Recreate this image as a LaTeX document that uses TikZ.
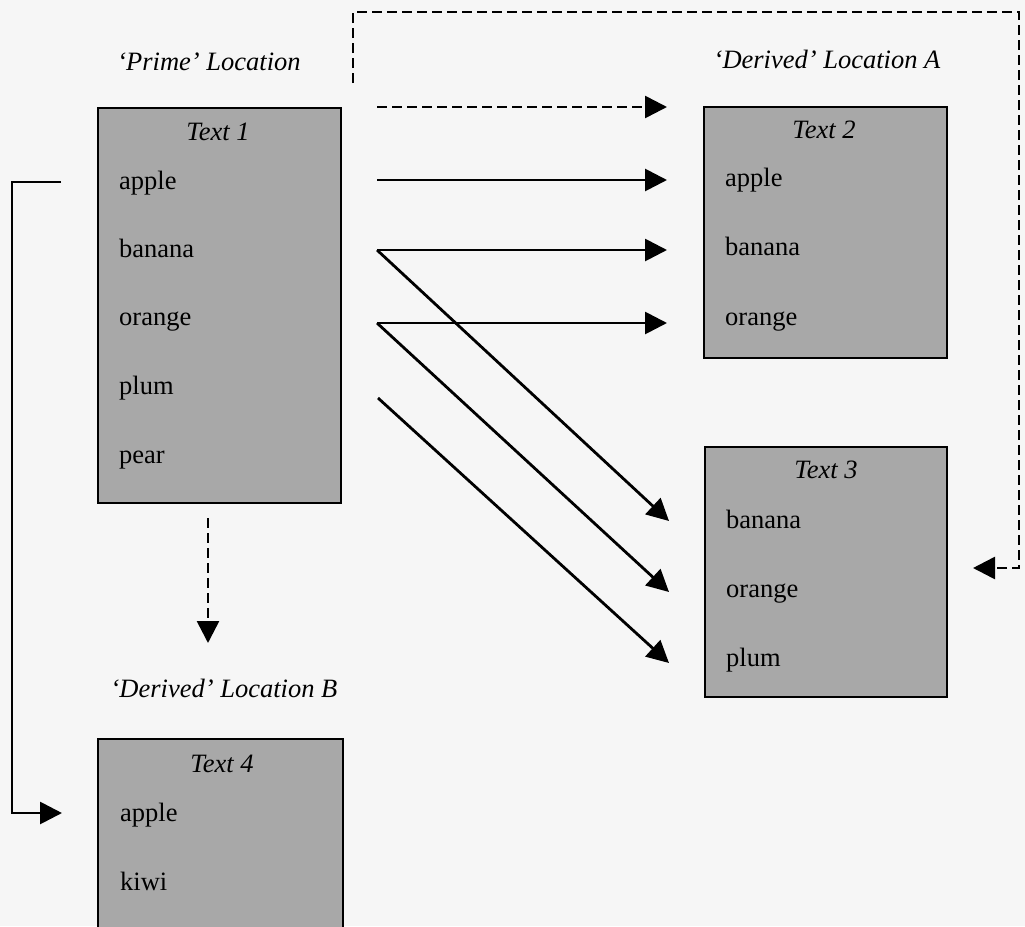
\documentclass[tikz,border=0pt]{standalone}
\usepackage{fontspec}
\setmainfont{Liberation Serif}
\usetikzlibrary{arrows.meta}
\definecolor{pagebg}{RGB}{246,246,246}
\definecolor{boxgray}{RGB}{168,168,168}
\tikzset{
  textbox/.style={draw=black, line width=2.5pt, fill=boxgray, rectangle, inner sep=0pt},
  item/.style={anchor=base west, inner sep=0pt, font=\fontsize{26.5}{30}\selectfont},
  ttl/.style={anchor=base, inner sep=0pt, font=\fontsize{26.5}{30}\selectfont\itshape},
  conn/.style={line width=2.8pt, -{Triangle[length=22pt,width=22pt]}},
  dconn/.style={conn, line width=2.6pt, dash pattern=on 10pt off 5pt},
}
\begin{document}
\begin{tikzpicture}[x=1pt,y=-1pt]
\fill[pagebg] (0,0) rectangle (1025,926);
\useasboundingbox (0,0) rectangle (1025,926);
\clip (0,0) rectangle (1025,926);

% boxes
\node[textbox, minimum width=243pt, minimum height=395pt] (t1) at (219.5,305.5) {};
\node[textbox, minimum width=243pt, minimum height=251pt] (t2) at (825.5,232.5) {};
\node[textbox, minimum width=242pt, minimum height=250pt] (t3) at (826,572) {};
\node[textbox, minimum width=245pt, minimum height=260pt] (t4) at (220.5,869) {};

% location labels
\node[ttl] (lp) at (209,70) {`Prime' Location};
\node[ttl] (la) at (827,68) {`Derived' Location A};
\node[ttl] (lb) at (224,697) {`Derived' Location B};

% titles
\node[ttl] (h1) at (218,140) {Text 1};
\node[ttl] (h2) at (824,138) {Text 2};
\node[ttl] (h3) at (826,478) {Text 3};
\node[ttl] (h4) at (222,772) {Text 4};

% items
\node[item] (a1) at (119,189) {apple};
\node[item] (b1) at (119,257) {banana};
\node[item] (o1) at (119,325) {orange};
\node[item] (p1) at (119,394) {plum};
\node[item] (r1) at (119,463) {pear};

\node[item] (a2) at (725,186) {apple};
\node[item] (b2) at (725,255) {banana};
\node[item] (o2) at (725,325) {orange};

\node[item] (b3) at (726,528) {banana};
\node[item] (o3) at (726,597) {orange};
\node[item] (p3) at (726,666) {plum};

\node[item] (a4) at (120,821) {apple};
\node[item] (k4) at (120,890) {kiwi};

% connector end points
\coordinate (ds) at (377,107);  \coordinate (de) at (667,107);
\coordinate (as) at (377,180);  \coordinate (ae) at (667,180);
\coordinate (bs) at (377,250);  \coordinate (be) at (667,250);
\coordinate (os) at (377,323);  \coordinate (oe) at (667,323);
\coordinate (ps) at (378,398);
\coordinate (bd) at (669,521);
\coordinate (od) at (669,592);
\coordinate (pd) at (669,663);
\coordinate (vs) at (208,518);  \coordinate (ve) at (208,643);
\coordinate (ls) at (353,83);   \coordinate (le) at (973,568);
\coordinate (ks) at (61,182);   \coordinate (ke) at (62,813);

% connectors
\draw[dconn] (ds) -- (de);
\draw[conn] (as) -- (ae);
\draw[conn] (bs) -- (be);
\draw[conn] (os) -- (oe);
\draw[conn] (bs) -- (bd);
\draw[conn] (os) -- (od);
\draw[conn] (ps) -- (pd);
\draw[dconn] (vs) -- (ve);
\draw[dconn] (ls) -- (353,12) -- (1019,12) -- (1019,568) -- (le);
\draw[conn] (ks) -- (12,182) -- (12,813) -- (ke);
\end{tikzpicture}
\end{document}
